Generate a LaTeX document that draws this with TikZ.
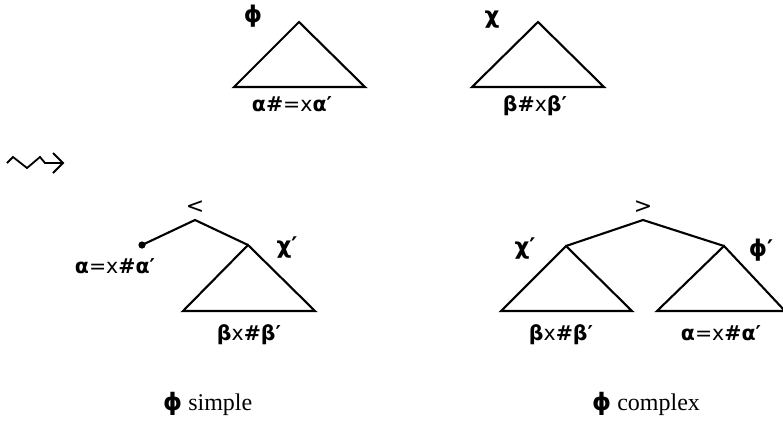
\documentclass[tikz,border=0pt]{standalone}
\usepackage{fontspec}
\setmainfont{Liberation Serif}
\newfontfamily\labfont{DejaVu Sans}
\tikzset{
  edge/.style={line width=2.1pt, line join=miter},
  lab/.style={font=\labfont\fontsize{20.5}{24}\selectfont, inner sep=0pt},
  biglab/.style={font=\labfont\fontsize{23}{27}\selectfont, inner sep=0pt},
  captext/.style={font=\fontsize{24}{28}\selectfont, inner sep=0pt, anchor=base west},
  rel/.style={font=\labfont\fontsize{22}{26}\selectfont, inner sep=0pt},
}
\newcommand\bb[1]{{\bfseries #1}}
\begin{document}
\begin{tikzpicture}[x=1pt,y=-1pt]
\useasboundingbox (0,0) rectangle (783,423);
% top triangles
\coordinate (phiT) at (299,22);
\coordinate (chiT) at (538,22);
\draw[edge] (phiT) -- ++(-65,65) -- ++(131,0) -- cycle;
\draw[edge] (chiT) -- ++(-66,65) -- ++(132,0) -- cycle;
\node[biglab] (phiL) at (253,16) {\bb{ϕ}};
\node[biglab] (chiL) at (492,20) {\bb{χ}};
\node[lab, anchor=base] (phiB) at (292,111) {\bb{α\#}=x\bb{α′}};
\node[lab, anchor=base] (chiB) at (535,111) {\bb{β\#}x\bb{β′}};
% squiggle arrow
\coordinate (sq0) at (7,163);
\coordinate (sq1) at (63,163);
\draw[edge, line width=1.8pt] (sq0) -- ++(6,-6) -- ++(14,11) -- ++(13,-11) -- ++(5,6) -- (sq1);
\draw[edge, line width=1.8pt] (sq1) ++(-10,-10) -- (sq1) -- ++(-10,10);
% bottom left tree
\node[rel] (lt) at (195,207) {<};
\coordinate (lroot) at (195,220);
\coordinate (ldot) at (142,245);
\coordinate (lchi) at (248,245);
\draw[edge] (ldot) -- (lroot) -- (lchi);
\fill (ldot) circle (3.6);
\draw[edge] (lchi) -- ++(-65,66) -- ++(132,0) -- cycle;
\node[biglab] (lchiL) at (287,248) {\bb{χ′}};
\node[lab, anchor=base] (laL) at (115,273) {\bb{α}=x\bb{\#α′}};
\node[lab, anchor=base] (lbL) at (249,340) {\bb{β}x\bb{\#β′}};
% bottom right tree
\node[rel] (rt) at (643,207) {>};
\coordinate (rroot) at (643,220);
\coordinate (rchi) at (566,246);
\coordinate (rphi) at (724,246);
\draw[edge] (rchi) -- (rroot) -- (rphi);
\draw[edge] (rchi) -- ++(-65,65) -- ++(131,0) -- cycle;
\draw[edge] (rphi) -- ++(-67,65) -- ++(128,0) -- cycle;
\node[biglab] (rchiL) at (525,249) {\bb{χ′}};
\node[biglab] (rphiL) at (761,250) {\bb{ϕ′}};
\node[lab, anchor=base] (rbL) at (561,340) {\bb{β}x\bb{\#β′}};
\node[lab, anchor=base] (raL) at (721,340) {\bb{α}=x\bb{\#α′}};
% captions
\node[captext] (c1) at (163,410) {{\labfont\bfseries ϕ} simple};
\node[captext] (c2) at (592,410) {{\labfont\bfseries ϕ} complex};
\end{tikzpicture}
\end{document}
